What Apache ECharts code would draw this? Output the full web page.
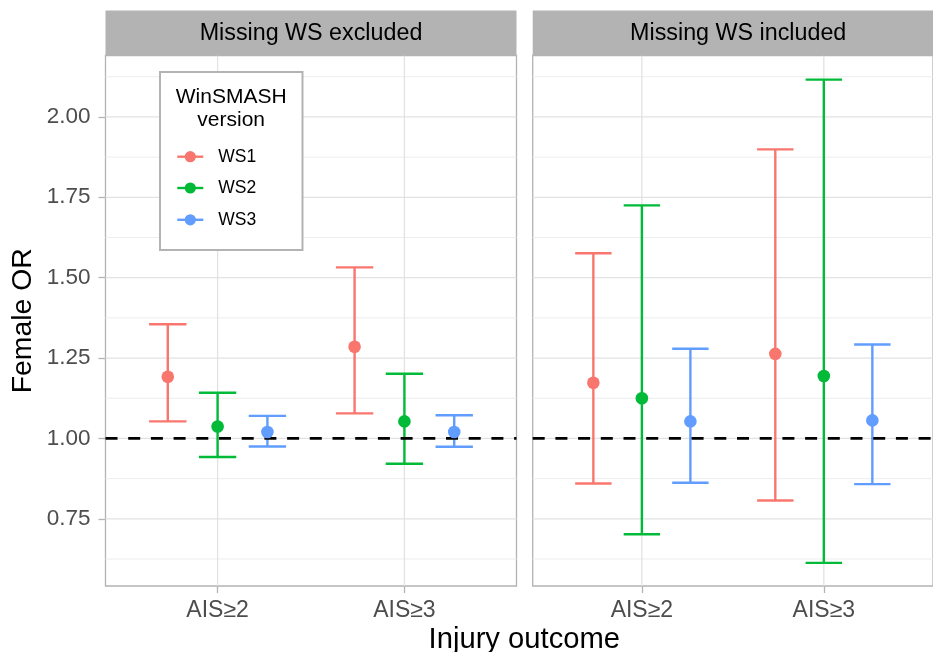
<!DOCTYPE html>
<html>
<head>
<meta charset="utf-8">
<script src="https://cdn.jsdelivr.net/npm/echarts@6/dist/echarts.min.js"></script>
<style>
  html, body { margin: 0; padding: 0; background: #ffffff; }
  #chart { width: 933px; height: 652px; }
</style>
</head>
<body>
<div id="chart"></div>
<script>
// Categories
const outcomes = ['AIS≥2', 'AIS≥3'];
const panels = ['Missing WS excluded', 'Missing WS included'];
const versions = ['WS1', 'WS2', 'WS3'];
const versionColors = ['#F8766D', '#00BA38', '#619CFF'];

// Female odds ratios: rows WS1..WS3, columns AIS≥2, AIS≥3
const exclEst  = [[1.192, 1.285], [1.037, 1.053], [1.020, 1.020]];
const exclLow  = [[1.053, 1.078], [0.942, 0.921], [0.975, 0.974]];
const exclHigh = [[1.355, 1.532], [1.142, 1.201], [1.070, 1.072]];

const inclEst  = [[1.173, 1.263], [1.125, 1.194], [1.053, 1.056]];
const inclLow  = [[0.860, 0.807], [0.702, 0.613], [0.862, 0.858]];
const inclHigh = [[1.576, 1.899], [1.725, 2.116], [1.279, 1.292]];

// Axis ticks
const yTicks = [0.75, 1.00, 1.25, 1.50, 1.75, 2.00];
const yMinorTicks = [0.625, 0.875, 1.125, 1.375, 1.625, 1.875, 2.125];
const xTicks = [1, 2];
const refValue = [1];

const panelData = [
  { est: exclEst, low: exclLow, high: exclHigh },
  { est: inclEst, low: inclLow, high: inclHigh }
];

const FONT = 'Liberation Sans, Arial, Helvetica, sans-serif';
const X_MIN = 0.4, X_MAX = 2.6;
const Y_MIN = 0.541, Y_MAX = 2.191;
const DODGE = 0.8;
const CAP = 0.2;
const LINE_W = 2.4;
const TOP_Z = 100;

const gridBoxes = [
  { left: 105.5, top: 55.5, width: 411, height: 530.5 },
  { left: 532.7, top: 55.5, width: 411, height: 530.5 }
];

function dodgeOffset(v) {
  return (v - (versions.length - 1) / 2) * DODGE / versions.length;
}

function hLineRenderer(style) {
  return function (params, api) {
    const v = api.value(0);
    const a = api.coord([X_MIN, v]);
    const b = api.coord([X_MAX, v]);
    return { type: 'line', shape: { x1: a[0], y1: a[1], x2: b[0], y2: b[1] }, style: style };
  };
}

function vLineRenderer(style) {
  return function (params, api) {
    const v = api.value(0);
    const a = api.coord([v, Y_MIN]);
    const b = api.coord([v, Y_MAX]);
    return { type: 'line', shape: { x1: a[0], y1: a[1], x2: b[0], y2: b[1] }, style: style };
  };
}

function errorBarRenderer(color) {
  return function (params, api) {
    const x = api.value(0);
    const lo = api.value(1);
    const hi = api.value(3);
    const half = api.size([CAP, 0])[0] / 2;
    const top = api.coord([x, hi]);
    const bot = api.coord([x, lo]);
    const style = { stroke: color, lineWidth: LINE_W, fill: null };
    return {
      type: 'group',
      children: [
        { type: 'line', shape: { x1: top[0], y1: top[1], x2: bot[0], y2: bot[1] }, style: style },
        { type: 'line', shape: { x1: top[0] - half, y1: top[1], x2: top[0] + half, y2: top[1] }, style: style },
        { type: 'line', shape: { x1: bot[0] - half, y1: bot[1], x2: bot[0] + half, y2: bot[1] }, style: style }
      ]
    };
  };
}

const grids = gridBoxes.map(g => Object.assign({
  show: true,
  borderColor: '#b3b3b3',
  borderWidth: 1.3,
  backgroundColor: 'transparent',
  containLabel: false
}, g));

const xAxes = panels.map((p, i) => ({
  type: 'value',
  gridIndex: i,
  min: X_MIN,
  max: X_MAX,
  axisLine: { show: false },
  splitLine: { show: false },
  axisTick: { show: true, customValues: xTicks, length: 7, lineStyle: { color: '#b3b3b3', width: 1.3 } },
  axisLabel: {
    customValues: xTicks,
    formatter: v => outcomes[Math.round(v) - 1],
    color: '#4d4d4d',
    fontSize: 23,
    fontFamily: FONT,
    margin: 13
  }
}));

const yAxes = panels.map((p, i) => ({
  type: 'value',
  gridIndex: i,
  min: Y_MIN,
  max: Y_MAX,
  axisLine: { show: false },
  splitLine: { show: false },
  axisTick: { show: i === 0, customValues: yTicks, length: 7, lineStyle: { color: '#b3b3b3', width: 1.3 } },
  axisLabel: {
    show: i === 0,
    customValues: yTicks,
    formatter: v => v.toFixed(2),
    color: '#4d4d4d',
    fontSize: 22.5,
    fontFamily: FONT,
    margin: 15
  }
}));

const series = [];
panels.forEach((p, pi) => {
  series.push({
    type: 'custom', xAxisIndex: pi, yAxisIndex: pi, z: 1, silent: true,
    data: yMinorTicks.map(v => [v]),
    renderItem: hLineRenderer({ stroke: '#ededed', lineWidth: 1 })
  });
  series.push({
    type: 'custom', xAxisIndex: pi, yAxisIndex: pi, z: 1, silent: true,
    data: yTicks.map(v => [v]),
    renderItem: hLineRenderer({ stroke: '#e2e2e2', lineWidth: 1.3 })
  });
  series.push({
    type: 'custom', xAxisIndex: pi, yAxisIndex: pi, z: 1, silent: true,
    data: xTicks.map(v => [v]),
    renderItem: vLineRenderer({ stroke: '#e2e2e2', lineWidth: 1.3 })
  });

  const d = panelData[pi];
  versions.forEach((ver, vi) => {
    const off = dodgeOffset(vi);
    series.push({
      name: ver,
      type: 'custom', xAxisIndex: pi, yAxisIndex: pi, z: 3, silent: true,
      data: outcomes.map((o, oi) => [oi + 1 + off, d.low[vi][oi], d.est[vi][oi], d.high[vi][oi]]),
      renderItem: errorBarRenderer(versionColors[vi])
    });
    series.push({
      name: ver,
      type: 'scatter', xAxisIndex: pi, yAxisIndex: pi, z: 5, silent: true,
      symbol: 'circle', symbolSize: 12.6,
      itemStyle: { color: versionColors[vi], opacity: 1 },
      data: outcomes.map((o, oi) => [oi + 1 + off, d.est[vi][oi]])
    });
  });

  series.push({
    type: 'custom', xAxisIndex: pi, yAxisIndex: pi, z: 4, silent: true,
    data: refValue.map(v => [v]),
    renderItem: hLineRenderer({ stroke: '#000000', lineWidth: 2.6, lineDash: [12, 10.7] })
  });
});

// Facet strips
const stripGraphics = [];
panels.forEach((p, i) => {
  stripGraphics.push(
    {
      type: 'rect', z: TOP_Z,
      shape: { x: gridBoxes[i].left, y: 10.5, width: gridBoxes[i].width, height: 45 },
      style: { fill: '#b3b3b3', stroke: null }
    },
    {
      type: 'text', z: TOP_Z + 1,
      x: gridBoxes[i].left + gridBoxes[i].width / 2,
      y: 33.5,
      style: { text: p, fill: '#000000', font: '23.3px ' + FONT, textAlign: 'center', textVerticalAlign: 'middle' }
    }
  );
});

// Legend box
const legendX = 160, legendY = 72;
const legendGraphics = [
  {
    type: 'rect', z: TOP_Z,
    shape: { x: legendX, y: legendY, width: 142.5, height: 178 },
    style: { fill: '#ffffff', stroke: '#b3b3b3', lineWidth: 2 }
  },
  {
    type: 'text', z: TOP_Z + 1, x: 231.2, y: 97.5,
    style: { text: 'WinSMASH', fill: '#000000', font: '21px ' + FONT, textAlign: 'center', textVerticalAlign: 'middle' }
  },
  {
    type: 'text', z: TOP_Z + 1, x: 231.2, y: 120.5,
    style: { text: 'version', fill: '#000000', font: '21px ' + FONT, textAlign: 'center', textVerticalAlign: 'middle' }
  }
];
const legendRowY = [156.7, 188, 219.8];
versions.forEach((ver, vi) => {
  const y = legendRowY[vi];
  legendGraphics.push(
    { type: 'line', z: TOP_Z + 1, shape: { x1: 177.3, y1: y, x2: 203.3, y2: y },
      style: { stroke: versionColors[vi], lineWidth: LINE_W } },
    { type: 'circle', z: TOP_Z + 2, shape: { cx: 190.3, cy: y, r: 5.6 },
      style: { fill: versionColors[vi] } },
    { type: 'text', z: TOP_Z + 1, x: 218.3, y: y,
      style: { text: ver, fill: '#000000', font: '17.5px ' + FONT, textAlign: 'left', textVerticalAlign: 'middle' } }
  );
});

const titleGraphics = [
  {
    type: 'text', z: TOP_Z, x: 23, y: 320.75, rotation: Math.PI / 2,
    style: { text: 'Female OR', fill: '#000000', font: '28.4px ' + FONT, textAlign: 'center', textVerticalAlign: 'middle' }
  },
  {
    type: 'text', z: TOP_Z, x: 524.3, y: 640,
    style: { text: 'Injury outcome', fill: '#000000', font: '29.2px ' + FONT, textAlign: 'center', textVerticalAlign: 'middle' }
  }
];

const chart = echarts.init(document.getElementById('chart'), null, { renderer: 'canvas' });
chart.setOption({
  animation: false,
  backgroundColor: '#ffffff',
  textStyle: { fontFamily: FONT },
  grid: grids,
  xAxis: xAxes,
  yAxis: yAxes,
  series: series,
  graphic: [].concat(stripGraphics, legendGraphics, titleGraphics)
});
</script>
</body>
</html>
